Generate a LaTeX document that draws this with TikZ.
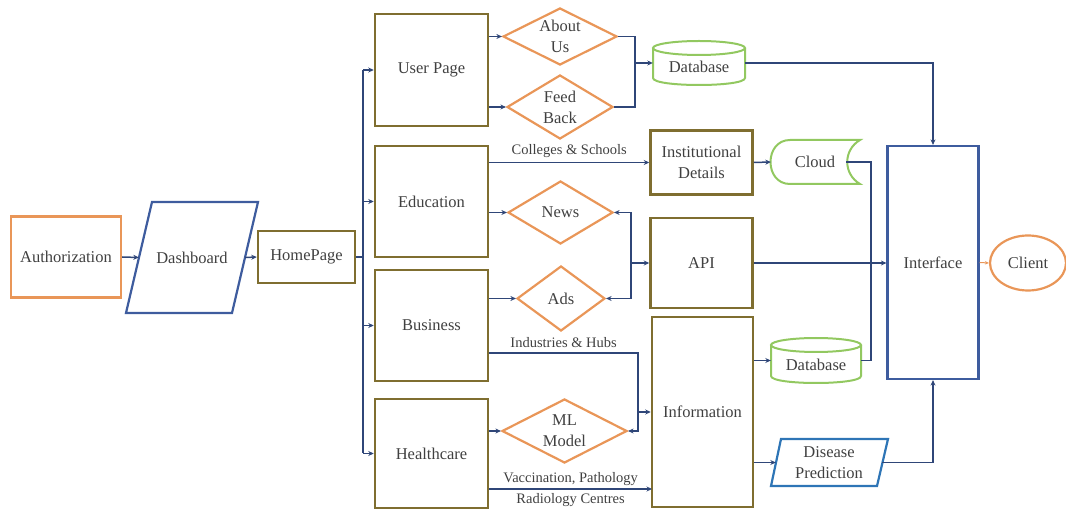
\documentclass[tikz,border=0pt]{standalone}
\usepackage{fontspec}
\setmainfont{Liberation Serif}
\usetikzlibrary{shapes.geometric,arrows.meta}
\definecolor{cOlive}{RGB}{127,110,48}
\definecolor{cOrange}{RGB}{233,150,88}
\definecolor{cBlue}{RGB}{62,92,158}
\definecolor{cBlueB}{RGB}{46,117,182}
\definecolor{cGreen}{RGB}{146,200,96}
\definecolor{cNavy}{RGB}{47,70,120}
\definecolor{cText}{RGB}{64,64,64}
\begin{document}
\begin{tikzpicture}[x=1pt,y=-1pt,
  txt/.style={font=\fontsize{16.5}{21}\selectfont, text=cText, align=center},
  box/.style={draw=cOlive, line width=2.5pt, rectangle, inner sep=0pt, txt},
  obox/.style={draw=cOrange, line width=2.2pt, rectangle, inner sep=0pt, txt},
  bbox/.style={draw=cBlue, line width=2.2pt, rectangle, inner sep=0pt, txt},
  dia/.style={draw=cOrange, line width=2.2pt, diamond, inner sep=0pt},
  ghost/.style={rectangle, inner sep=0pt, txt},
  shp/.style={line width=2.2pt, line join=miter},
  cyl/.style={draw=cGreen, line width=2pt},
  conn/.style={draw=cNavy, line width=1.5pt},
  arr/.style={conn, -{Stealth[length=5.5pt,width=5pt]}},
  lbl/.style={font=\fontsize{14.5}{17}\selectfont, text=cText, inner sep=0pt},
]
\useasboundingbox (0,0) rectangle (1066,510);

% ---- left chain
\node[obox, minimum width=110pt, minimum height=81pt] (auth) at (66,257) {Authorization};
\draw[shp, draw=cBlue] (152,202) -- (258,202) -- (232,313) -- (126,313) -- cycle;
\node[ghost, minimum width=106pt, minimum height=111pt] (dash) at (192,257.5) {Dashboard};
\node[box, minimum width=97pt, minimum height=52pt] (home) at (306.5,257) {HomePage};

% ---- column of pages
\node[box, minimum width=113pt, minimum height=112pt] (user) at (431.5,70) {User Page};
\node[box, minimum width=113pt, minimum height=111pt] (edu) at (431.5,201.5) {Education};
\node[box, minimum width=113pt, minimum height=111pt] (busn) at (431.5,325.5) {Business};
\node[box, minimum width=113pt, minimum height=109pt] (health) at (431.5,453.5) {Healthcare};

% ---- diamonds
\node[dia, minimum width=114pt, minimum height=57pt, label={[txt]center:{About\\Us}}] (about) at (560,36.5) {};
\node[dia, minimum width=106pt, minimum height=64pt, label={[txt]center:{Feed\\Back}}] (feed) at (560,107) {};
\node[dia, minimum width=105pt, minimum height=63pt, label={[txt]center:News}] (news) at (560.5,212.5) {};
\node[dia, minimum width=88pt, minimum height=65pt, label={[txt]center:Ads}] (ads) at (561,298.5) {};
\node[dia, minimum width=125pt, minimum height=64pt, label={[txt]center:{ML\\Model}}] (ml) at (564.5,431) {};

% ---- middle column
\draw[cyl] (699,48) ellipse [x radius=46pt, y radius=7pt];
\draw[cyl] (653,48) -- (653,78) .. controls (653,87.33) and (745,87.33) .. (745,78) -- (745,48);
\node[ghost, minimum width=92pt, minimum height=44pt, label={[txt,yshift=-4pt]center:Database}] (db1) at (699,63) {};

\node[box, minimum width=102pt, minimum height=64pt] (inst) at (701.5,162.5) {Institutional\\Details};
\node[box, minimum width=102pt, minimum height=90pt] (api) at (701.5,263) {API};
\node[box, minimum width=101pt, minimum height=190pt] (info) at (702.5,412) {Information};

% ---- right column
\draw[cyl] (790,140) -- (860,140) .. controls (843,150) and (843,174) .. (860,184) -- (790,184) .. controls (764,184) and (764,140) .. (790,140) -- cycle;
\node[ghost, minimum width=88pt, minimum height=44pt] (cloud) at (815,162) {Cloud};

\draw[cyl] (816,345) ellipse [x radius=45pt, y radius=7pt];
\draw[cyl] (771,345) -- (771,376) .. controls (771,385.33) and (861,385.33) .. (861,376) -- (861,345);
\node[ghost, minimum width=90pt, minimum height=45pt, label={[txt,yshift=-4pt]center:Database}] (db2) at (816,360.5) {};

\draw[shp, draw=cBlueB] (781,439) -- (888,439) -- (877,486) -- (771,486) -- cycle;
\node[ghost, minimum width=106pt, minimum height=47pt] (dis) at (829,462.5) {Disease\\Prediction};

\node[bbox, minimum width=91pt, minimum height=233pt] (iface) at (933,262.5) {Interface};
\node[draw=cOrange, line width=2.2pt, ellipse, inner sep=0pt, minimum width=76pt, minimum height=55pt, txt] (client) at (1028,263) {Client};

% ---- connectors
\draw[arr] (auth.east) -- (dash.west);
\draw[arr] (dash.east) -- (home.west);

\coordinate (busx) at (363,257);
\draw[conn] (home.east) -- (busx);
\draw[conn] (busx |- user.west) -- (busx |- health.west);
\draw[arr] (busx |- user.west) -- (user.west);
\draw[arr] (busx |- edu.west) -- (edu.west);
\draw[arr] (busx |- busn.west) -- (busn.west);
\draw[arr] (busx |- health.west) -- (health.west);

\draw[arr] (user.east |- about.west) -- (about.west);
\draw[arr] (user.east |- feed.west) -- (feed.west);
\coordinate (j1) at (635,63);
\draw[conn] (about.east) -| (j1);
\draw[conn] (feed.east) -| (j1);
\draw[arr] (j1) -- (db1.west);
\draw[arr] (db1.east) -| (iface.north);

\draw[arr] (edu.east |- inst.west) -- node[lbl, above=4pt] {Colleges \& Schools} (inst.west);
\draw[arr] (inst.east) -- (cloud.west);
\coordinate (j3) at (871,360.5);
\draw[conn] ([xshift=-13pt]cloud.east) -| (j3) -- (db2.east);

\draw[arr] (edu.east |- news.west) -- (news.west);
\coordinate (j2) at (631,263);
\draw[arr] (j2) -- (api.west);
\draw[arr] (j2) |- (news.east);
\draw[arr] (j2) |- (ads.east);
\draw[arr] (busn.east |- ads.west) -- (ads.west);
\draw[arr] (api.east) -- (api.east -| iface.west);

\coordinate (j4) at (638,353);
\draw[arr] (busn.east |- j4) -- node[lbl, above=5pt] {Industries \& Hubs} (j4) |- (ml.east);
\draw[arr] (j4 |- info.west) -- (info.west);
\draw[arr] (health.east |- ml.west) -- (ml.west);

\coordinate (j5) at (652,489);
\draw[arr] (health.east |- j5) -- node[lbl, above=3pt] {Vaccination, Pathology} node[lbl, below=4pt] {Radiology Centres} (j5);

\draw[arr] (info.east |- db2.west) -- (db2.west);
\draw[arr] (info.east |- dis.west) -- (dis.west);
\draw[arr] (dis.east) -| (iface.south);
\draw[draw=cOrange, line width=1pt, -{Stealth[length=4pt,width=3.5pt]}] (iface.east) -- (client.west);
\end{tikzpicture}
\end{document}
